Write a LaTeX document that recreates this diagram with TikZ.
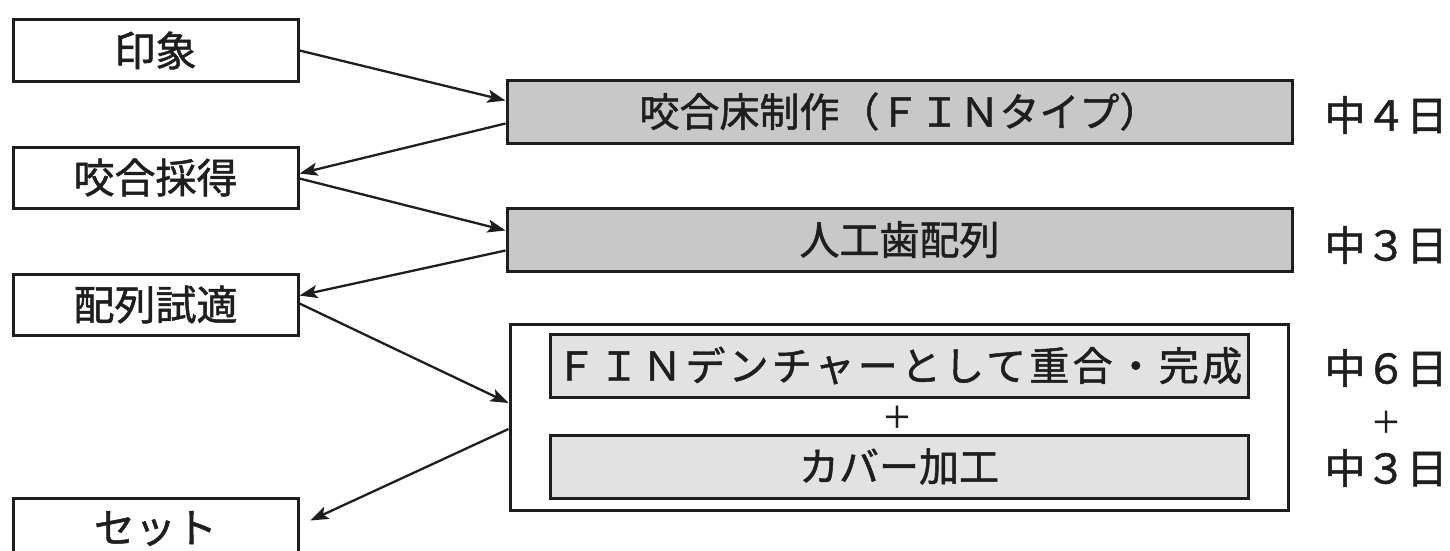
\documentclass[tikz,border=0pt]{standalone}
\usepackage{fontspec}
\setmainfont{Noto Sans CJK JP}[FakeBold=1.2]
\usetikzlibrary{arrows.meta}
\definecolor{darkfill}{RGB}{200,200,200}
\definecolor{lightfill}{RGB}{226,226,226}
\definecolor{ink}{RGB}{30,30,30}
\tikzset{
  leftbox/.style={draw=ink, line width=3pt, fill=white, minimum width=285pt, minimum height=61pt, inner sep=0pt, font=\fontsize{41}{44}\selectfont, text=ink},
  graybox/.style={draw=ink, line width=3pt, fill=darkfill, minimum width=785pt, minimum height=63pt, inner sep=0pt, font=\fontsize{40}{44}\selectfont, text=ink},
  outerbox/.style={draw=ink, line width=3pt, fill=white, minimum width=778pt, minimum height=186pt, inner sep=0pt},
  innerbox/.style={draw=ink, line width=3pt, fill=lightfill, minimum width=698pt, minimum height=63pt, inner sep=0pt, font=\fontsize{40}{44}\selectfont, text=ink},
  daylabel/.style={inner sep=0pt, font=\fontsize{41}{44}\selectfont, text=ink},
  flow/.style={draw=ink, line width=2.3pt, -{Stealth[length=18pt,width=13pt,inset=4pt]}}
}
\begin{document}
\begin{tikzpicture}[x=1pt,y=-1pt]
\useasboundingbox (0,0) rectangle (1450,551);
\clip (0,0) rectangle (1450,551);
\fill[white] (0,0) rectangle (1450,551);
% left column
\node[leftbox] (inshou) at (155.5,50.5) {印象};
\node[leftbox] (kougou) at (155.5,177.5) {咬合採得};
\node[leftbox] (hairetsu) at (155.5,304.5) {配列試適};
\node[leftbox] (set) at (155.5,528.5) {セット};
% right column
\node[graybox] (kougoushou) at (899.5,111.5) {咬合床制作（ＦＩＮタイプ）};
\node[graybox] (jinkoushi) at (899.5,239.5) {人工歯配列};
\node[outerbox] (outer) at (899,417) {};
\node[innerbox] (fin) at (899,365.5) {\addfontfeature{LetterSpace=8}ＦＩＮデンチャーとして重合・完成};
\node[innerbox] (cover) at (899,466.5) {カバー加工};
\node[daylabel] (plusA) at (897,417) {\fontsize{30}{32}\selectfont ＋};
% day labels
\node[daylabel] (d1) at (1386,115) {中４日};
\node[daylabel] (d2) at (1386,245) {中３日};
\node[daylabel] (d3) at (1386,368) {中６日};
\node[daylabel] (plusB) at (1386,422) {\fontsize{30}{32}\selectfont ＋};
\node[daylabel] (d4) at (1386,468) {中３日};
% connectors
\draw[flow] (inshou.east) -- ([yshift=11pt]kougoushou.west);
\draw[flow] ([yshift=-12pt]kougoushou.west) -- ([yshift=4pt]kougou.east);
\draw[flow] ([yshift=-1pt]kougou.east) -- ([yshift=9pt]jinkoushi.west);
\draw[flow] ([yshift=-11pt]jinkoushi.west) -- ([yshift=9pt]hairetsu.east);
\draw[flow] ([yshift=1pt]hairetsu.east) -- ([yshift=14pt]outer.west);
\draw[flow, shorten >=12pt] ([yshift=-12pt]outer.west) -- ([yshift=3pt]set.east);
\end{tikzpicture}
\end{document}
